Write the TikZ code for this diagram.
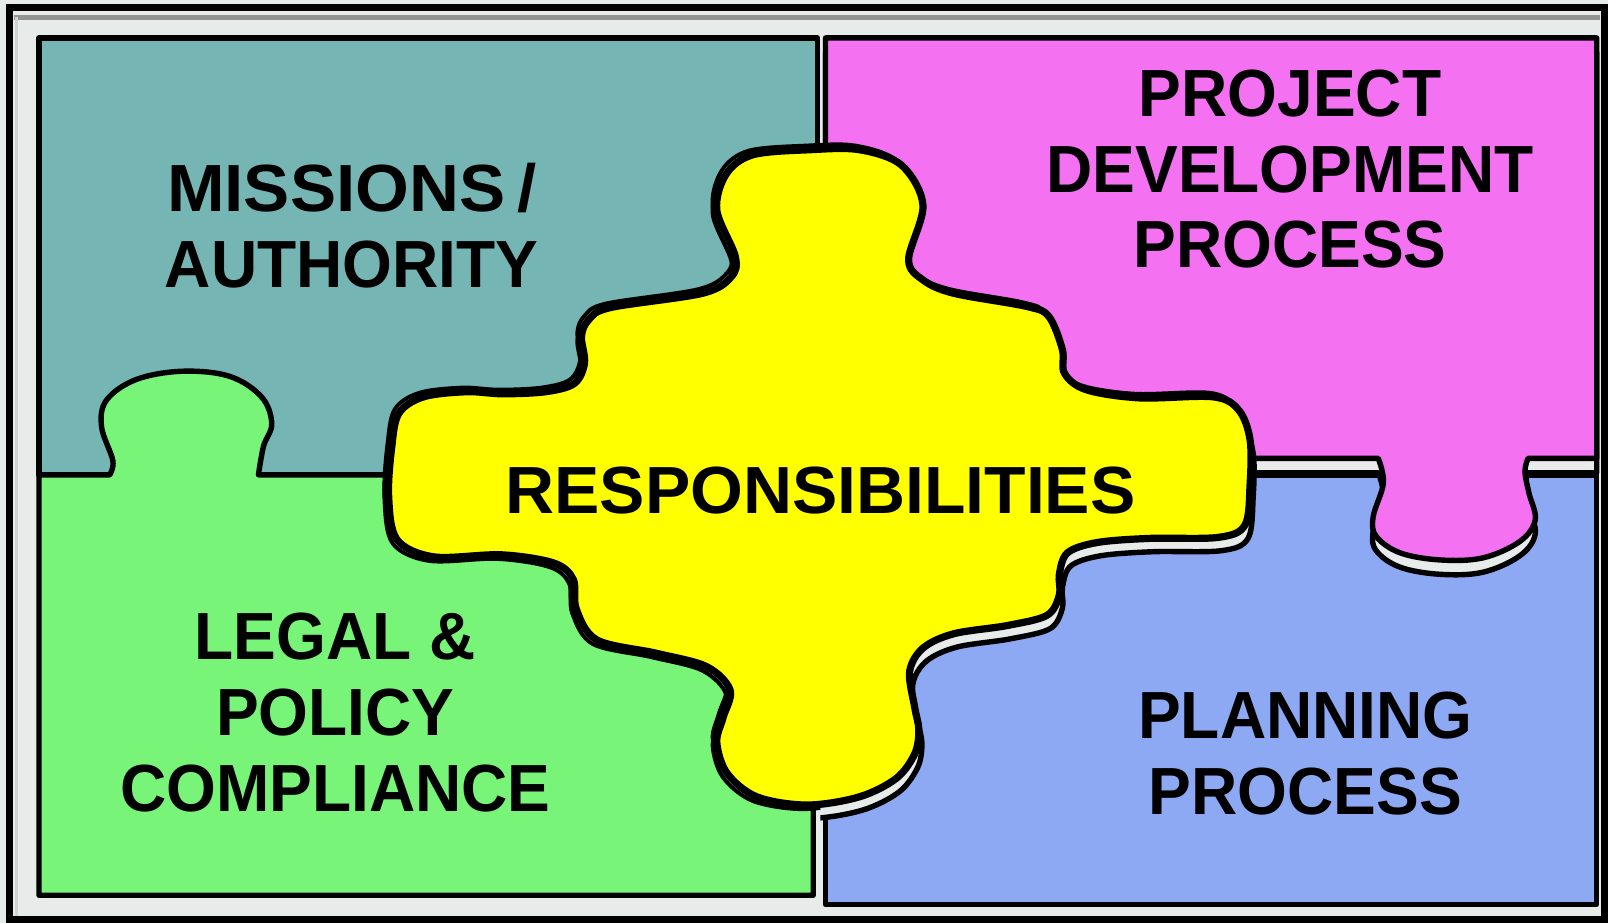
\documentclass[tikz,border=0pt]{standalone}
\usepackage{fontspec}
\setmainfont{Liberation Sans}[FakeStretch=0.96]
\definecolor{bggray}{HTML}{E7EBE9}
\definecolor{tealpiece}{HTML}{75B5B3}
\definecolor{greenpiece}{HTML}{78F578}
\definecolor{pinkpiece}{HTML}{F472F2}
\definecolor{bluepiece}{HTML}{8EA9F3}
\definecolor{yellowpiece}{HTML}{FFFF00}
\newcommand{\respblob}{plot[smooth cycle,tension=0.55] coordinates {(699,205) (708,170) (734,151) (790,146) (838,146) (879,161) (900,200) (886,253) (900,273) (930,286) (1002,299) (1023,309) (1036,341) (1038,364) (1059,380) (1111,388) (1183,387) (1208,400) (1219,429) (1219,472) (1214,512) (1188,524) (1121,525) (1070,529) (1041,539) (1033,560) (1033,580) (1021,600) (982,610) (930,618) (900,632) (887,655) (892,690) (896,712) (892,735) (874,759) (838,777) (787,785) (738,777) (709,754) (699,724) (705,700) (712,673) (689,650) (640,637) (582,624) (562,594) (559,565) (540,549) (489,541) (423,543) (387,526) (379,484) (382,436) (389,403) (413,387) (455,382) (490,384) (532,382) (560,374) (570,354) (567,328) (574,312) (595,300) (685,286) (713,270) (717,250)}}
\newcommand{\pinkpath}{(805,37) -- (1557,37) -- (1557,447) -- plot[smooth,tension=0.6] coordinates {(1490,447) (1487,460) (1491,481) (1497,507) (1482,528) (1446,544) (1404,546) (1365,539) (1342,523) (1339,504) (1349,471) (1344,447)} -- (805,447) -- cycle}
\begin{document}
\begin{tikzpicture}[x=0.01cm,y=-0.01cm]
	\tikzset{piece/.style={draw=black,line width=1.5pt,line join=round}}
	\tikzset{edgecopy/.style={draw=black,fill=white,line width=1.1pt}}
	\tikzset{puzzletext/.style={align=center,inner sep=0pt,font=\bfseries\fontsize{18.5}{21}\selectfont}}
	\useasboundingbox (0,0) rectangle (1568,900);
	\fill[bggray] (0,0) rectangle (1568,900);
	\draw[gray!85,line width=0.05cm] (14,17) -- (1560,17);
	\draw[gray!35,line width=0.03cm] (16,17) -- (16,893);
	\draw[black,line width=0.07cm] (9.5,7.5) rectangle (1565,897);
	% the four outer pieces
	\draw[piece,fill=tealpiece] (38,37) rectangle (797,463);
	\draw[piece,fill=greenpiece] (38,463) -- plot[smooth,tension=0.6] coordinates {(107,463) (110,449) (99,416) (104,390) (133,370) (178,362) (224,367) (255,387) (265,413) (257,435) (252,463)} -- (793,463) -- (793,873) -- (38,873) -- cycle;
	\draw[piece,fill=bluepiece] (805,463) rectangle (1557,882);
	\draw[piece,fill=bggray,shift={(0,14)}] \pinkpath;
	\draw[piece,fill=pinkpiece] \pinkpath;
	% centre piece
	\draw[edgecopy,shift={(-4,-4)}] \respblob;
	\draw[edgecopy,shift={(-4,4)}] \respblob;
	\begin{scope}
		\clip (800,380) rectangle (1568,900);
		\draw[piece,fill=bggray,shift={(3,13)}] \respblob;
	\end{scope}
	\draw[piece,line width=2pt,fill=yellowpiece] \respblob;
	\node[puzzletext] (missions) at (343,220) {\scalebox{1.08}[1]{MISSIONS\,/}\\AUTHORITY};
	\node[puzzletext] (project) at (1258,165) {PROJECT\\DEVELOPMENT\\PROCESS};
	\node[puzzletext] (resp) at (800,478) {\scalebox{1.06}[1]{RESPONSIBILITIES}};
	\node[puzzletext] (legal) at (327,695) {LEGAL \&\\POLICY\\COMPLIANCE};
	\node[puzzletext] (planning) at (1273,735) {PLANNING\\PROCESS};
\end{tikzpicture}
\end{document}
